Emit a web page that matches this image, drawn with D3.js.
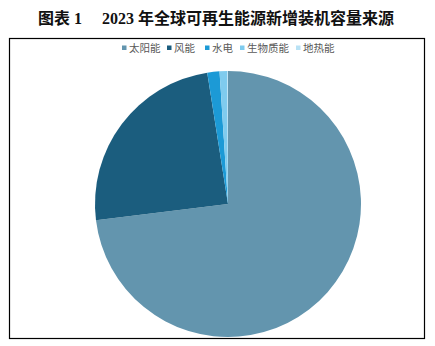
<!DOCTYPE html>
<html><head><meta charset="utf-8">
<script src="https://cdn.jsdelivr.net/npm/d3@7"></script>
<style>body{margin:0;background:#fff}svg{display:block}</style>
</head><body>
<script>
const categories = ["太阳能","风能","水电","生物质能","地热能"];
const values = [345.5, 115.6, 7.0, 4.4, 0.4];
const colors = ["#6395ae","#1b5d7e","#1c9ad6","#7fcbee","#b9e2f5"];
const title = "图表 1\u3000 2023 年全球可再生能源新增装机容量来源";

const W=435,H=346;
const svg=d3.select("body").append("svg").attr("width",W).attr("height",H);
svg.append("rect").attr("width",W).attr("height",H).attr("fill","#fff");

// title
svg.append("text").attr("x",216).attr("y",24).attr("text-anchor","middle")
  .attr("font-family","'Liberation Serif','Noto Sans CJK SC',serif").attr("font-weight","bold")
  .attr("font-size",16).attr("fill","#111").text(title);

// frame
svg.append("rect").attr("x",9.5).attr("y",38.5).attr("width",415).attr("height",300)
  .attr("fill","none").attr("stroke","#000").attr("stroke-width",1.2);

// pie
const cx=228, cy=204, r=133;
const pie=d3.pie().sort(null).value(d=>d)(values);
const arc=d3.arc().innerRadius(0).outerRadius(r);
const color=d3.scaleOrdinal().domain(categories).range(colors);
svg.append("g").attr("transform",`translate(${cx},${cy})`)
  .selectAll("path").data(pie).join("path")
  .attr("d",arc).attr("fill",(d,i)=>color(categories[i]));

// legend
const lx=[122,167,205,240,296];
const lg=svg.append("g");
categories.forEach((c,i)=>{
  lg.append("rect").attr("x",lx[i]).attr("y",45.5).attr("width",4.5).attr("height",4.5).attr("fill",colors[i]);
  lg.append("text").attr("x",lx[i]+7).attr("y",52).attr("font-family","'Noto Sans CJK SC',sans-serif")
    .attr("font-size",10.5).attr("fill","#595959").text(c);
});
</script>
</body></html>
